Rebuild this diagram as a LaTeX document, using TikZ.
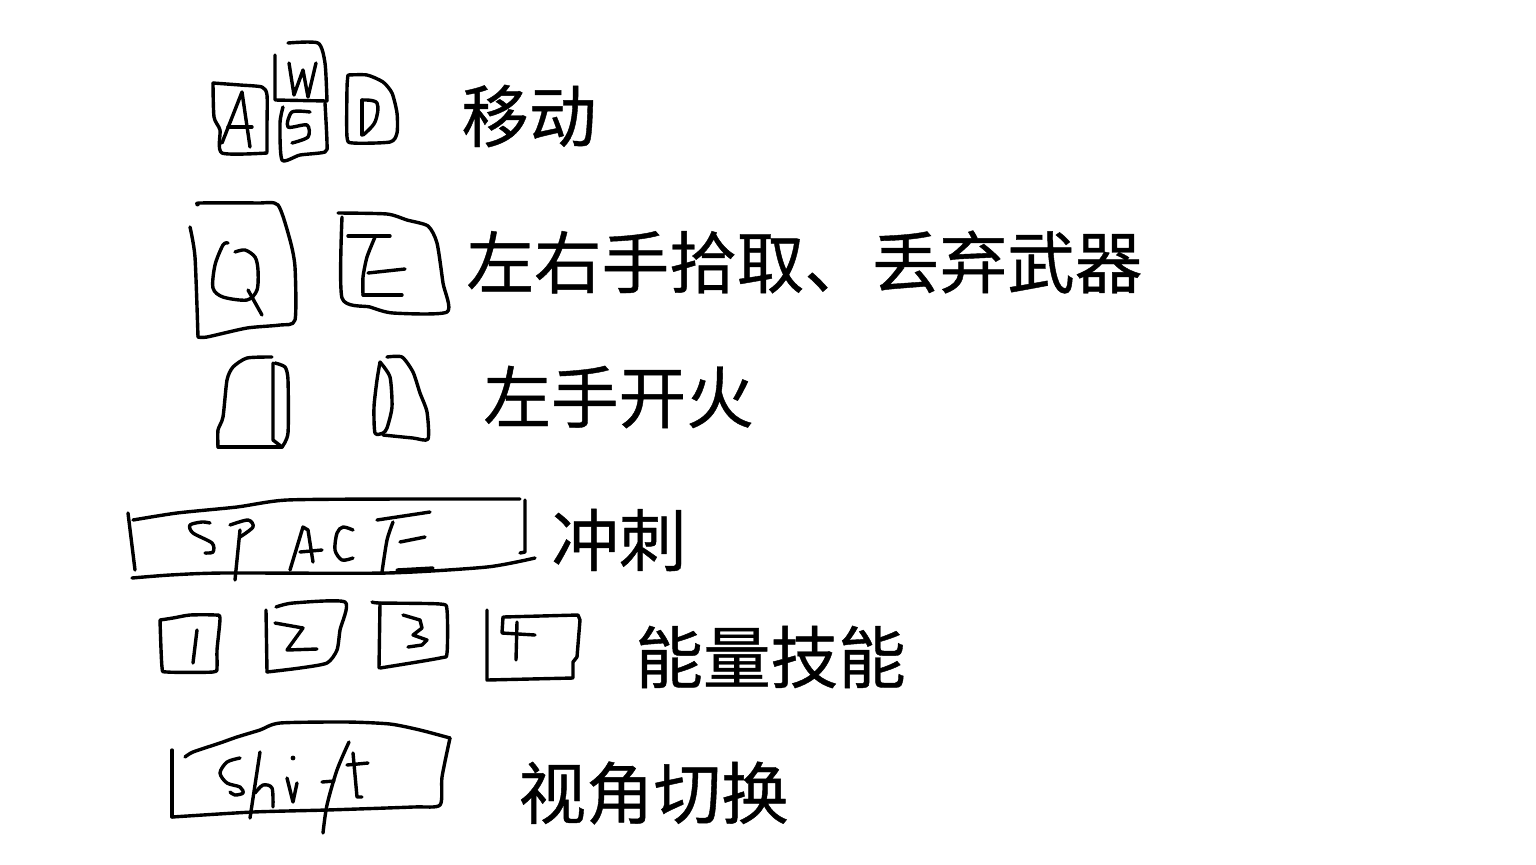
\documentclass[tikz,border=0pt]{standalone}
\usepackage{fontspec}
\newfontfamily\cjk[FakeBold=0.6]{Noto Sans CJK SC}
\begin{document}
\begin{tikzpicture}[x=0.5pt,y=-0.5pt,
  sk/.style={line width=1.7pt, line cap=round, line join=round, black},
  lbl/.style={anchor=west, inner sep=0pt, font=\cjk\fontsize{33.8}{40}\selectfont}]
\useasboundingbox[fill=white] (0,0) rectangle (1536,864);
% ---- WASD ----
% A key
\draw[sk] plot[smooth,tension=0.4] coordinates {(213,83) (240,85) (262,87) (267,95) (267,125) (267,152)};
\draw[sk] plot[smooth,tension=0.4] coordinates {(213,83) (214,117) (220,130) (222,153) (267,153)};
\draw[sk] (222,143) -- (242,92) -- (250,147);
\draw[sk] (228,127) -- (252,127);
% W key
\draw[sk] plot[smooth,tension=0.4] coordinates {(288,43) (318,43) (325,63) (327,101)};
\draw[sk] (275,55) -- (275,100) -- (327,101);
\draw[sk] (289,63) -- (294,95) -- (303,70) -- (308,97) -- (316,63);
% S key
\draw[sk] plot[smooth,tension=0.4] coordinates {(283,107) (280,123) (282,160) (300,155) (325,152) (327,143) (325,103)};
\draw[sk] plot[smooth,tension=0.5] coordinates {(310,112) (292,112) (288,127) (307,125) (308,137) (292,143)};
% D key
\draw[sk] plot[smooth,tension=0.4] coordinates {(348,75) (367,75) (383,82) (392,93) (397,113) (397,133) (390,142) (353,143) (347,137) (347,88) (348,75)};
\draw[sk] (362,100) -- (362,135);
\draw[sk] plot[smooth,tension=0.6] coordinates {(362,100) (377,103) (375,122) (363,135)};
\node[lbl] (move) at (461,116) {移动};
% ---- Q / E ----
\draw[sk] plot[smooth,tension=0.4] coordinates {(198,205) (200,203) (257,203) (278,205) (290,240) (295,267) (295,320) (280,325) (247,328) (207,337) (198,337)};
\draw[sk] plot[smooth,tension=0.4] coordinates {(198,337) (195,257) (190,227)};
\draw[sk] plot[smooth,tension=0.5] coordinates {(228,243) (223,245) (215,265) (213,288) (223,297) (247,300) (257,290) (258,270) (255,257) (245,250) (235,252)};
\draw[sk] (248,290) -- (262,315);
\draw[sk] plot[smooth,tension=0.4] coordinates {(338,213) (387,214) (407,220) (428,226) (437,243) (443,283) (447,312) (393,313) (370,307) (342,298) (342,217)};
\draw[sk] (348,236) -- (390,236);
\draw[sk] plot[smooth,tension=0.4] coordinates {(375,237) (367,257) (363,277) (363,295)};
\draw[sk] (363,295) -- (402,295);
\draw[sk] (368,273) -- (405,269);
\node[lbl] (pick) at (466,262) {左右手拾取、丢弃武器};
% ---- mouse ----
\draw[sk] plot[smooth,tension=0.4] coordinates {(272,357) (247,358) (233,367) (227,380) (223,417) (218,430) (218,447)};
\draw[sk] (218,447) -- (282,447);
\draw[sk] (273,363) -- (273,440) -- (282,447);
\draw[sk] plot[smooth,tension=0.4] coordinates {(275,363) (285,367) (288,380) (288,433) (282,447)};
\draw[sk] plot[smooth,tension=0.4] coordinates {(380,362) (390,377) (392,407) (387,428) (383,433) (375,433) (374,407) (377,380) (380,362)};
\draw[sk] plot[smooth,tension=0.4] coordinates {(387,357) (402,357) (413,372) (420,393) (427,412) (428,439) (413,438) (383,435)};
\node[lbl] (fire) at (483,397) {左手开火};
% ---- SPACE ----
\draw[sk] (128,513) -- (135,570);
\draw[sk] plot[smooth,tension=0.4] coordinates {(133,520) (177,513) (237,507) (287,500) (400,499) (520,499)};
\draw[sk] (525,500) -- (525,552) -- (520,553);
\draw[sk] plot[smooth,tension=0.4] coordinates {(132,578) (170,575) (223,573) (387,573) (487,567) (535,558)};
\draw[sk] plot[smooth,tension=0.5] coordinates {(210,523) (202,522) (190,525) (193,533) (212,543) (213,552) (205,553)};
\draw[sk] plot[smooth,tension=0.5] coordinates {(230,525) (248,520) (253,527) (240,537)};
\draw[sk] (240,530) -- (235,580);
\draw[sk] (290,570) -- (303,527) -- (308,530) -- (313,562);
\draw[sk] (300,552) -- (322,550);
\draw[sk] plot[smooth,tension=0.5] coordinates {(353,530) (343,527) (337,533) (335,550) (342,560) (353,558)};
\draw[sk] (377,520) -- (430,512);
\draw[sk] plot[smooth,tension=0.4] coordinates {(393,522) (387,540) (382,572)};
\draw[sk] (400,542) -- (425,537);
\draw[sk] (397,570) -- (433,568);
\node[lbl] (dash) at (551,540) {冲刺};
% ---- 1 2 3 4 ----
\draw[sk] plot[smooth,tension=0.4] coordinates {(160,620) (173,618) (190,615) (215,615) (220,618) (217,650) (217,667) (213,672) (167,672) (162,667) (160,620)};
\draw[sk] (197,630) -- (193,663);
\draw[sk] (266,610) -- (267,672);
\draw[sk] plot[smooth,tension=0.4] coordinates {(276,607) (293,603) (345,602) (340,630) (337,650) (327,663) (300,668) (267,672)};
\draw[sk] (275,623) -- (303,628) -- (287,650) -- (317,649);
\draw[sk] plot[smooth,tension=0.4] coordinates {(372,602) (380,603) (440,604) (447,610) (447,653) (440,658) (380,668)};
\draw[sk] (380,603) -- (379,668);
\draw[sk] (403,615) -- (420,620) -- (422,628) -- (413,635) -- (427,640) -- (422,645) -- (408,647);
\draw[sk] (487,610) -- (487,680) -- (573,678) -- (573,662) -- (577,657) -- (580,620) -- (578,615) -- (503,617) -- (502,633) -- (535,635);
\draw[sk] (517,622) -- (516,660);
\node[lbl] (energy) at (635,657) {能量技能};
% ---- shift ----
\draw[sk] (172,750) -- (172,817);
\draw[sk] plot[smooth,tension=0.4] coordinates {(172,817) (253,812) (327,810) (413,807) (440,805) (442,777) (450,738)};
\draw[sk] plot[smooth,tension=0.4] coordinates {(450,738) (420,730) (390,724) (347,722) (280,723) (260,730) (237,737) (220,743) (193,752) (185,757)};
\draw[sk] plot[smooth,tension=0.5] coordinates {(240,758) (227,762) (220,773) (227,783) (240,787) (243,793) (235,795) (230,792)};
\draw[sk] (260,752) -- (250,818);
\draw[sk] plot[smooth,tension=0.5] coordinates {(255,793) (263,785) (272,788) (273,807)};
\draw[sk] (287,778) -- (293,802) -- (297,783);
\fill (293,758) circle (1.2pt);
\draw[sk] plot[smooth,tension=0.5] coordinates {(349,742) (337,770) (327,805) (323,833)};
\draw[sk] (322,782) -- (334,781);
\draw[sk] (353,753) -- (357,797) -- (362,797);
\draw[sk] (347,765) -- (368,763);
\node[lbl] (view) at (518,793) {视角切换};
\end{tikzpicture}
\end{document}
